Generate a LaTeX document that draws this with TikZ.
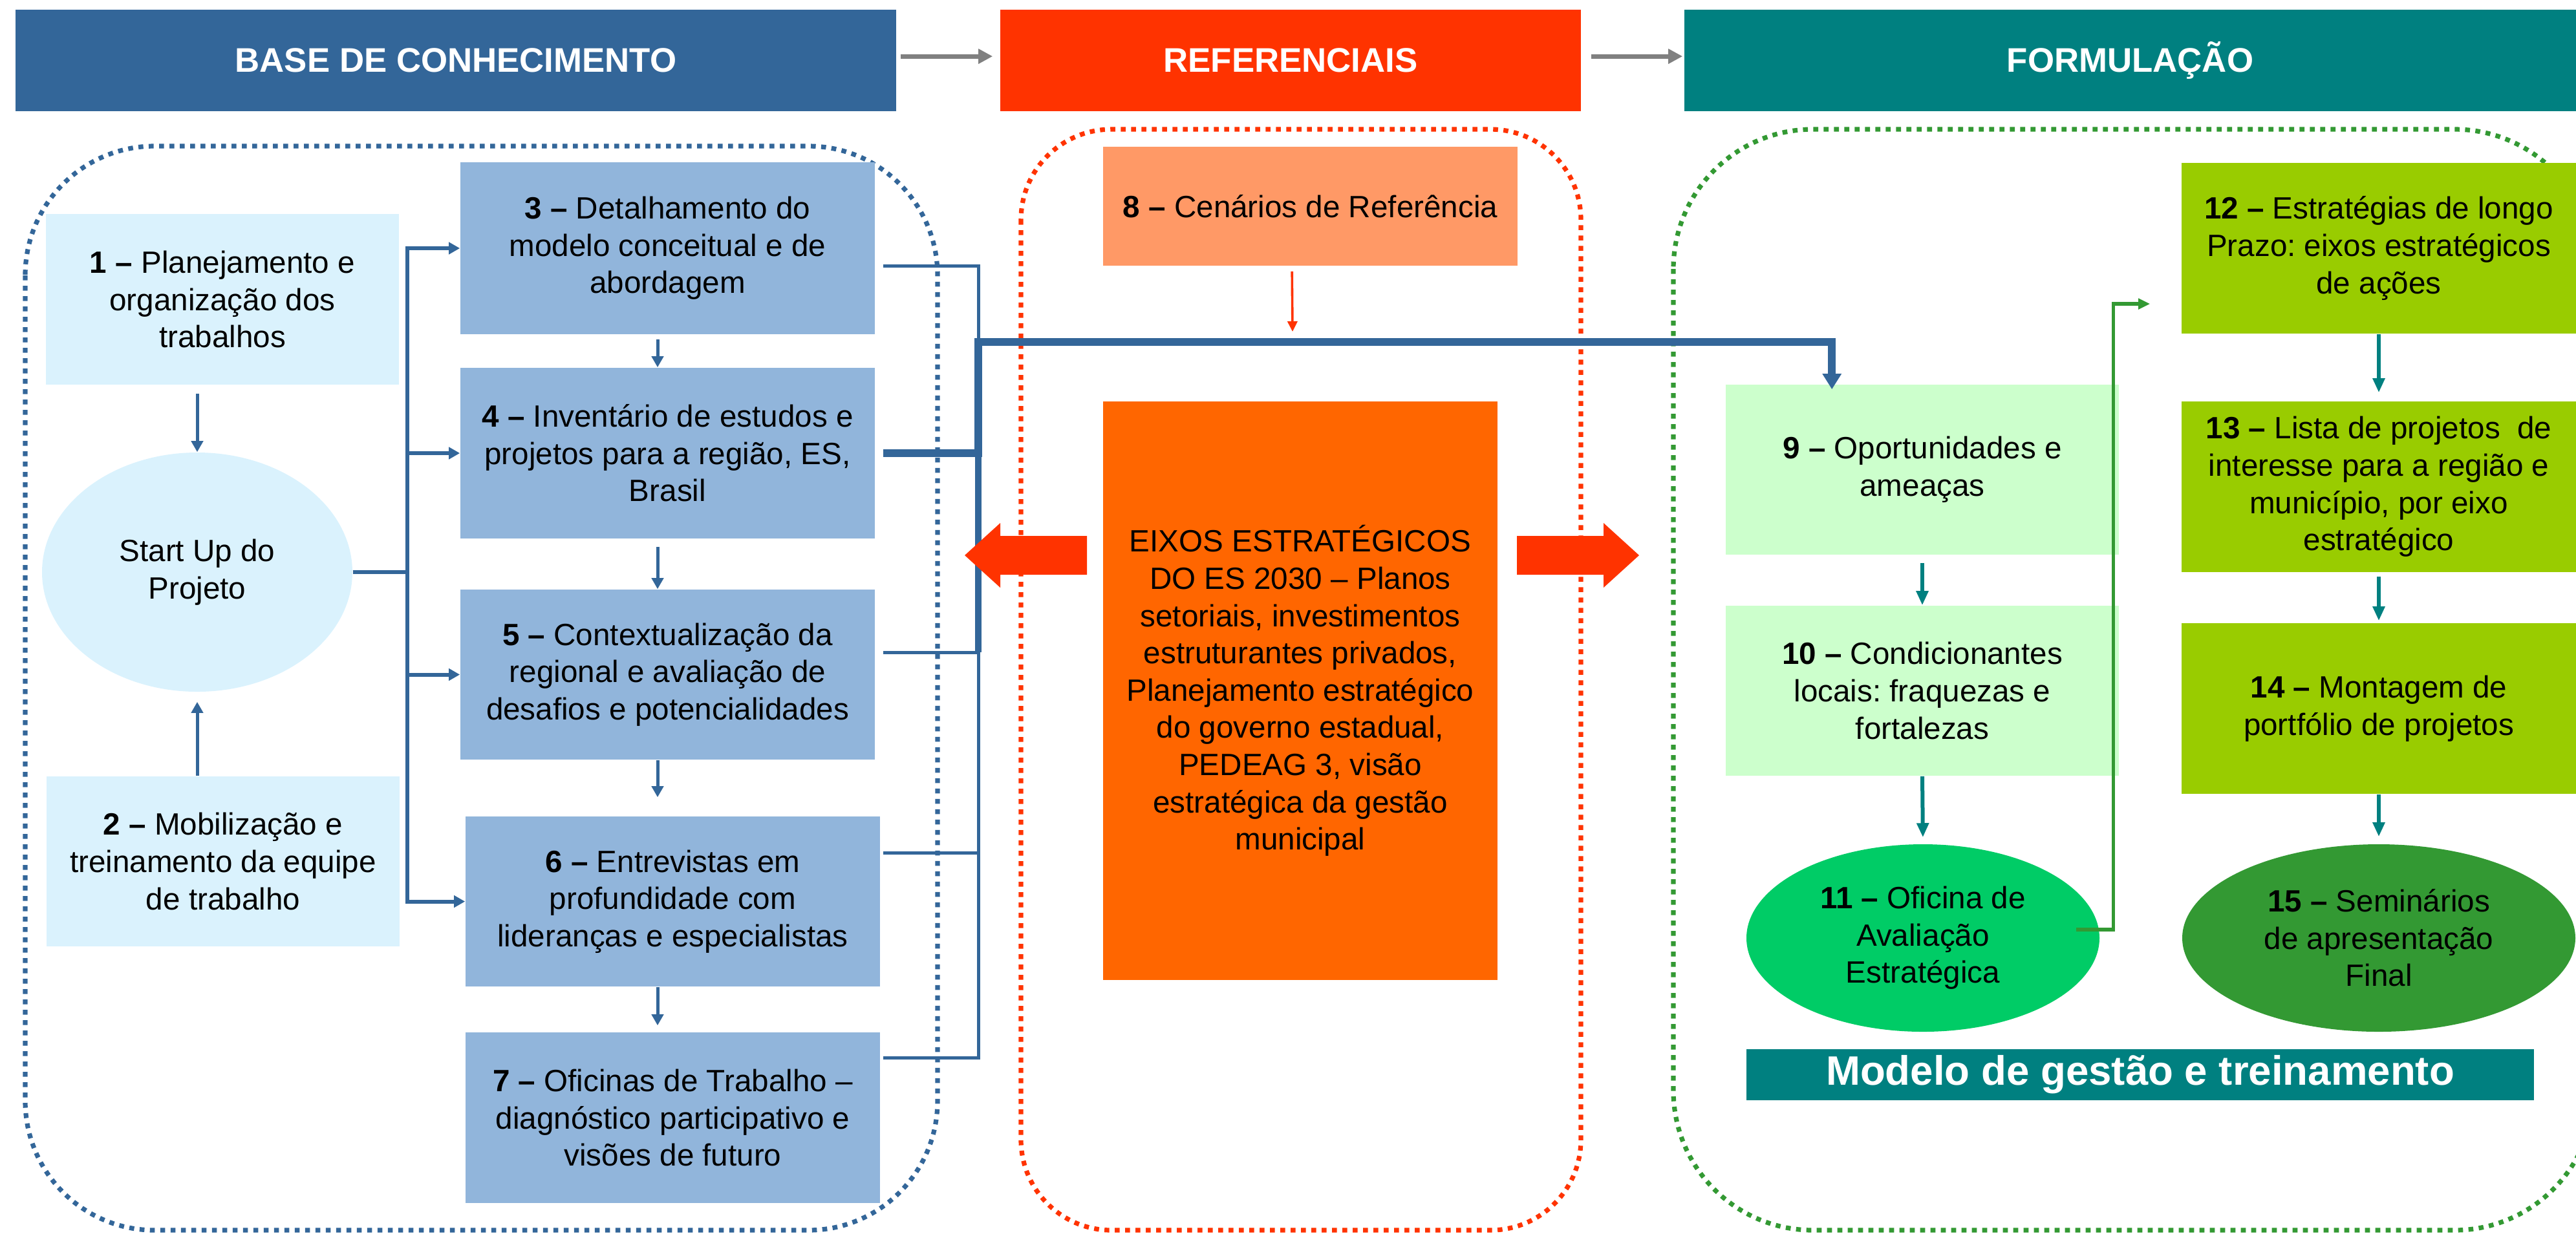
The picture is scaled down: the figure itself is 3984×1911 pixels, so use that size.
\documentclass[tikz,border=0pt]{standalone}
\usepackage{fontspec}
\setmainfont{Liberation Sans}
\usetikzlibrary{arrows.meta,calc,shapes.geometric}
\definecolor{hblue}{RGB}{51,102,153}
\definecolor{hred}{RGB}{255,51,0}
\definecolor{hteal}{RGB}{0,128,128}
\definecolor{lcyan}{RGB}{218,242,253}
\definecolor{mblue}{RGB}{145,181,219}
\definecolor{lorange}{RGB}{255,153,102}
\definecolor{dorange}{RGB}{255,102,0}
\definecolor{lgreen}{RGB}{204,255,204}
\definecolor{ygreen}{RGB}{153,204,0}
\definecolor{bgreen}{RGB}{0,204,102}
\definecolor{dgreen}{RGB}{51,153,51}
\definecolor{hgray}{RGB}{128,128,128}
\frenchspacing
\begin{document}
\begin{tikzpicture}[x=0.25pt,y=-0.25pt,
  txt/.style={font=\fontsize{11.9pt}{14.4pt}\selectfont, align=center, text=black, inner sep=0pt},
  bx/.style 2 args={rectangle, minimum width=#1*0.25pt, minimum height=#2*0.25pt, txt},
  el/.style 2 args={ellipse, minimum width=#1*0.25pt, minimum height=#2*0.25pt, txt},
  hdr/.style={font=\fontsize{13.2pt}{16pt}\selectfont\bfseries, text=white},
  cont/.style={line width=1.8pt, dash pattern=on 1.9pt off 2.1pt, rounded corners=#1},
  garrow/.style={draw=hgray, line width=1.75pt, -{Triangle[length=5.5pt,width=5.5pt]}},
  lconn/.style={draw=hblue, line width=1.5pt, line join=miter, -{Triangle[length=4.25pt,width=4.5pt]}},
  rconn/.style={draw=hblue, line width=1.25pt, line join=miter},
  thk/.style={draw=hblue, line width=2.9pt, line join=miter, -{Triangle[length=6pt,width=7pt]}},
  vconn/.style={draw=hblue, line width=1.25pt, -{Triangle[length=4.25pt,width=4.5pt]}},
  tarr/.style={draw=hteal, line width=1.5pt, -{Triangle[length=5.5pt,width=4.5pt]}},
  gconn/.style={draw=dgreen, line width=1.3pt, line join=miter, -{Triangle[length=4.5pt,width=4pt]}},
  rarr/.style={draw=hred, line width=0.9pt, -{Triangle[length=4pt,width=3.75pt]}},
]
\useasboundingbox (0,0) rectangle (3984,1911);
\clip (0,0) rectangle (3984,1911);

% containers
\draw[cont=50pt, draw=hblue] (39,226) rectangle (1450,1903);
\draw[cont=35pt, draw=hred] (1579,200) rectangle (2445,1903);
\draw[cont=54pt, draw=dgreen] (2588,200) rectangle (4012,1903);

% headers
\node[bx={1362}{157}, fill=hblue, hdr] (hbase) at (705,93.5) {BASE DE CONHECIMENTO};
\node[bx={898}{157}, fill=hred, hdr] (href) at (1996,93.5) {REFERENCIAIS};
\node[bx={1379}{157}, fill=hteal, hdr] (hform) at (3294.5,93.5) {FORMULAÇÃO};
\draw[garrow, shorten <=1.5pt, shorten >=2.75pt] ([yshift=1.6pt]hbase.east) -- ([yshift=1.6pt]href.west);
\draw[garrow, shorten <=3.75pt, shorten >=0.5pt] ([yshift=1.6pt]href.east) -- ([yshift=1.6pt]hform.west);

% base de conhecimento
\node[bx={546}{264}, fill=lcyan] (b1) at (344,463) {\textbf{1 –} Planejamento e\\organização dos\\trabalhos};
\node[el={480}{370}, fill=lcyan] (start) at (305,885) {Start Up do\\Projeto};
\node[bx={546}{263}, fill=lcyan] (b2) at (345,1332.5) {\textbf{2 –} Mobilização e\\treinamento da equipe\\de trabalho};
\node[bx={641}{266}, fill=mblue] (b3) at (1032.5,384) {\textbf{3 –} Detalhamento do\\modelo conceitual e de\\abordagem};
\node[bx={641}{264}, fill=mblue] (b4) at (1032.5,701) {\textbf{4 –} Inventário de estudos e\\projetos para a região, ES,\\Brasil};
\node[bx={641}{263}, fill=mblue] (b5) at (1032.5,1043.5) {\textbf{5 –} Contextualização da\\regional e avaliação de\\desafios e potencialidades};
\node[bx={641}{263}, fill=mblue] (b6) at (1040.5,1394.5) {\textbf{6 –} Entrevistas em\\profundidade com\\lideranças e especialistas};
\node[bx={641}{264}, fill=mblue] (b7) at (1040.5,1729) {\textbf{7 –} Oficinas de Trabalho –\\diagnóstico participativo e\\visões de futuro};

\draw[vconn, shorten <=3.25pt] (start.north |- b1.south) -- (start.north);
\draw[vconn, shorten >=3.75pt] (start.south |- b2.north) -- (start.south);

\coordinate (busL) at (630,0);
\foreach \b in {b3,b4,b5,b6}
  \draw[lconn] (start.east) -- (start.east -| busL) |- (\b.west);

\coordinate (vx) at (1017,0);
\draw[vconn, shorten <=1.75pt] (vx |- b3.south) -- (vx |- b4.north);
\draw[vconn, shorten <=3pt] (vx |- b4.south) -- (vx |- b5.north);
\draw[vconn, shorten >=7.25pt] (vx |- b5.south) -- (vx |- b6.north);
\draw[vconn, shorten >=2.5pt] (vx |- b6.south) -- (vx |- b7.north);

% right bus
\coordinate (busR) at (1513,0);
\coordinate (ty) at (0,529);
\draw[rconn] ($(b3.north east)+(12,161)$) -| ($(b7.north east)+(152,40)$) -- ($(b7.north east)+(4,40)$);
\draw[rconn] ($(b5.north east)+(12,98)$) -- ++(148,0);
\draw[rconn] ($(b6.north east)+(4,57)$) -- ++(148,0);
\draw[draw=hblue, line width=2.3pt] (busR |- ty) -- ($(busR |- b5.north)+(0,98)$);

% referenciais
\node[bx={641}{184}, fill=lorange] (b8) at (2026.5,319) {\textbf{8 –} Cenários de Referência};
\node[bx={610}{895}, fill=dorange] (eixos) at (2011,1068.5) {EIXOS ESTRATÉGICOS\\DO ES 2030 – Planos\\setoriais, investimentos\\estruturantes privados,\\Planejamento estratégico\\do governo estadual,\\PEDEAG 3, visão\\estratégica da gestão\\municipal};
\coordinate (rtip) at (1999,513);
\draw[rarr] ($(b8.south west)+(293,8)$) -- (rtip);

% formulacao
\node[bx={608}{263}, fill=lgreen] (b9) at (2973,726.5) {\textbf{9 –} Oportunidades e\\ameaças};
\node[bx={608}{263}, fill=lgreen] (b10) at (2973,1068.5) {\textbf{10 –} Condicionantes\\locais: fraquezas e\\fortalezas};
\node[el={546}{290}, fill=bgreen] (e11) at (2974,1451) {\textbf{11 –} Oficina de\\Avaliação\\Estratégica};
\node[bx={610}{264}, fill=ygreen] (b12) at (3679,384) {\textbf{12 –} Estratégias de longo\\Prazo: eixos estratégicos\\de ações};
\node[bx={610}{264}, fill=ygreen] (b13) at (3679,753) {\textbf{13 –} Lista de projetos~ de\\interesse para a região e\\município, por eixo\\estratégico};
\node[bx={610}{264}, fill=ygreen] (b14) at (3679,1096) {\textbf{14 –} Montagem de\\portfólio de projetos};
\node[el={608}{290}, fill=dgreen] (e15) at (3679,1451) {\textbf{15 –} Seminários\\de apresentação\\Final};
\node[bx={1218}{79}, fill=hteal, font=\fontsize{15.9pt}{18pt}\selectfont\bfseries, text=white] (modelo) at (3310,1662.5) {Modelo de gestão e treinamento};

% thick connector from 4 to 9
\draw[thk] ($(b4.east)+(12,0)$) -- (b4.east -| busR) -- (busR |- ty) -| ($(b9.north west)+(165,8)$);

% fat arrows from the eixos box
\fill[hred] (1681,829) -- (1547,829) -- (1547,809) -- (1492,859) -- (1547,909) -- (1547,889) -- (1681,889) -- cycle;
\fill[hred] (2346,829) -- (2480,829) -- (2480,809) -- (2535,859) -- (2480,909) -- (2480,889) -- (2346,889) -- cycle;

\draw[tarr, shorten <=3pt] (b9.south) -- (b10.north);
\draw[tarr, shorten >=2.5pt] (b10.south) -- (e11.north);
\draw[tarr, shorten >=3.25pt] (b12.south) -- (b13.north);
\draw[tarr, shorten <=1.5pt, shorten >=0.75pt] (b13.south) -- (b14.north);
\draw[tarr, shorten >=2.75pt] (b14.south) -- (e15.north);

\draw[gconn] ($(e11.center)+(237,-13)$) -| ($(b12.west)+(-105,86)$) -- ($(b12.west)+(-48,86)$);
\end{tikzpicture}
\end{document}
